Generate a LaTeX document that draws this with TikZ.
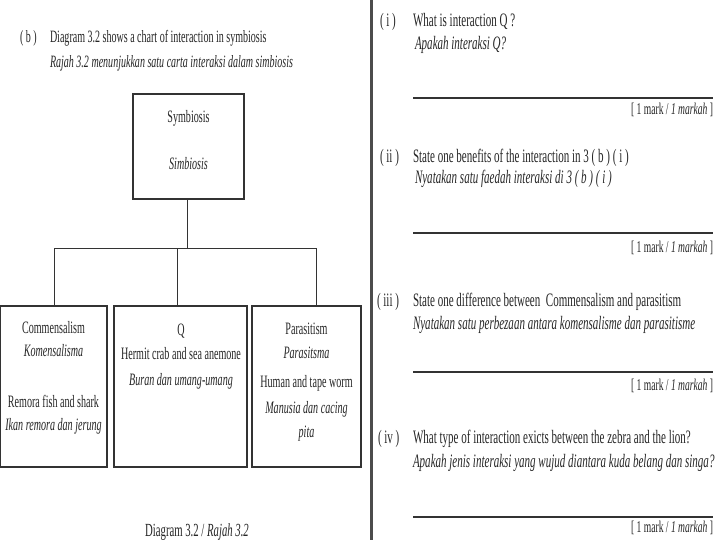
\documentclass[tikz,border=0pt]{standalone}
\usepackage{fontspec}
\setmainfont{Liberation Serif}[FakeStretch=0.58]
\begin{document}
\begin{tikzpicture}[x=1pt,y=-1pt,
  every node/.style={inner sep=0pt, outer sep=0pt, text=black!85},
  hd/.style={font=\fontsize{17.3}{19}\selectfont, anchor=base west},
  bxt/.style={font=\fontsize{17.4}{19}\selectfont, anchor=base},
  qt/.style={font=\fontsize{19}{21}\selectfont, anchor=base west},
  mk/.style={font=\fontsize{16.5}{18}\selectfont, anchor=base east},
  boxst/.style={draw=black!80, line width=1.3pt, anchor=north west},
  conn/.style={draw=black!80, line width=1pt},
  ansline/.style={draw=black!80, line width=1.3pt},
  divider/.style={draw=black!70, line width=3pt}]
\useasboundingbox[fill=white] (0,0) rectangle (720,540);

% ---------- left panel ----------
\node[hd] (b) at (20,43) {( b )};
\node[hd] (h1) at (50,43) {Diagram 3.2 shows a chart of interaction in symbiosis};
\node[hd] (h2) at (50,68) {\itshape Rajah 3.2 menunjukkan satu carta interaksi dalam simbiosis};

\node[boxst, minimum width=111pt, minimum height=105pt] (sym) at (133,94) {};
\node[bxt] (sym1) at (188.5,123) {Symbiosis};
\node[bxt] (sym2) at (188.5,170) {\itshape Simbiosis};

\node[boxst, minimum width=107pt, minimum height=161pt] (com) at (0,306) {};
\node[boxst, minimum width=133pt, minimum height=161pt] (q) at (114,306) {};
\node[boxst, minimum width=109pt, minimum height=161pt] (par) at (252,306) {};

\coordinate (jt) at (187,248);
\coordinate (hl) at (54,248);
\coordinate (hm) at (177.5,248);
\coordinate (hr) at (316,248);
\draw[conn] (sym.south -| jt) -- (jt);
\draw[conn] (hl) -- (hr);
\draw[conn] (hl) -- (hl |- com.north);
\draw[conn] (hm) -- (hm |- q.north);
\draw[conn] (hr) -- (hr |- par.north);

\node[bxt] (c1) at (53.5,333) {Commensalism};
\node[bxt] (c2) at (53.5,356) {\itshape Komensalisma};
\node[bxt] (c3) at (53.5,407) {Remora fish and shark};
\node[bxt] (c4) at (53.5,430) {\itshape Ikan remora dan jerung};

\node[bxt] (q1) at (181,335) {Q};
\node[bxt] (q2) at (181,359) {Hermit crab and sea anemone};
\node[bxt] (q3) at (181,385) {\itshape Buran dan umang-umang};

\node[bxt] (p1) at (306.5,334) {Parasitism};
\node[bxt] (p2) at (306.5,358) {\itshape Parasitsma};
\node[bxt] (p3) at (306.5,387) {Human and tape worm};
\node[bxt] (p4) at (306.5,413) {\itshape Manusia dan cacing};
\node[bxt] (p5) at (306.5,437) {\itshape pita};

\node[bxt, font=\fontsize{18.5}{20}\selectfont] (cap) at (197,536) {Diagram 3.2 / \textit{Rajah 3.2}};

% ---------- divider ----------
\coordinate (dt) at (371,0);
\coordinate (db) at (371,540);
\draw[divider] (dt) -- (db);

% ---------- right panel ----------
\node[qt] (i0) at (380,27) {( i )};
\node[qt] (i1) at (413,27) {What is interaction Q ?};
\node[qt] (i2) at (415,50) {\itshape Apakah interaksi Q?};
\coordinate (l1a) at (413,98); \coordinate (l1b) at (713,98);
\draw[ansline] (l1a) -- (l1b);
\node[mk] (m1) at (713,115) {[ 1 mark / \textit{1 markah} ]};

\node[qt] (ii0) at (380,163) {( ii )};
\node[qt] (ii1) at (413,163) {State one benefits of the interaction in 3 ( b ) ( i )};
\node[qt] (ii2) at (415,184) {\itshape Nyatakan satu faedah interaksi di 3 ( b ) ( i )};
\coordinate (l2a) at (413,233); \coordinate (l2b) at (713,233);
\draw[ansline] (l2a) -- (l2b);
\node[mk] (m2) at (713,252) {[ 1 mark / \textit{1 markah} ]};

\node[qt] (iii0) at (377,306) {( iii )};
\node[qt] (iii1) at (413,306) {State one difference between \ Commensalism and parasitism};
\node[qt] (iii2) at (413,329) {\itshape Nyatakan satu perbezaan antara komensalisme dan parasitisme};
\coordinate (l3a) at (413,372); \coordinate (l3b) at (713,372);
\draw[ansline] (l3a) -- (l3b);
\node[mk] (m3) at (713,390) {[ 1 mark / \textit{1 markah} ]};

\node[qt] (iv0) at (378,443) {( iv )};
\node[qt] (iv1) at (413,443) {What type of interaction exicts between the zebra and the lion?};
\node[qt] (iv2) at (413,467) {\itshape Apakah jenis interaksi yang wujud diantara kuda belang dan singa?};
\coordinate (l4a) at (413,517); \coordinate (l4b) at (713,517);
\draw[ansline] (l4a) -- (l4b);
\node[mk] (m4) at (713,532) {[ 1 mark / \textit{1 markah} ]};
\end{tikzpicture}
\end{document}
